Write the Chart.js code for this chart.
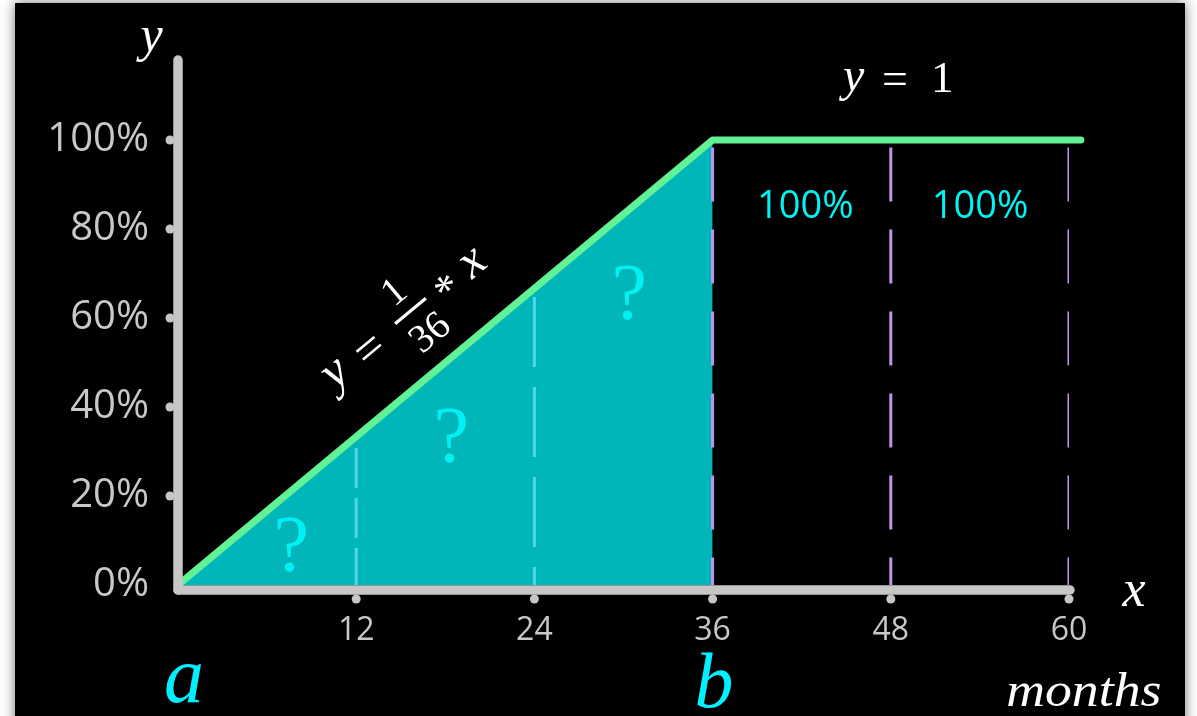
<!DOCTYPE html>
<html><head><meta charset="utf-8">
<script src="https://cdn.jsdelivr.net/npm/chart.js@4.4.1/dist/chart.umd.min.js"></script>
<style>html,body{margin:0;padding:0;background:#fff;overflow:hidden}canvas{display:block}</style>
</head><body>
<canvas id="c" width="1197" height="716"></canvas>
<script>
// ---- data ----
const monthTicks = [0, 12, 24, 36, 48, 60];
const percentTicks = [0, 20, 40, 60, 80, 100];
const curveMonths = [0, 36, 60.8];
const curveShare = [0, 100, 100];
const areaMonths = [0, 36];
const areaShare = [0, 100];
const cyanGuideMonths = [12, 24];
const cyanGuideTop = [30.8, 64.7];
const purpleGuideMonths = [36, 48, 60];
const purpleGuideTop = [98.3, 98.3, 98.3];
const knownShareLabels = ['100%', '100%'];
const unknownLabels = ['?', '?', '?'];

// ---- styles ----
const GRID_GRAY = '#c6c6c6';
const TICK_GRAY = '#c8c8c8';
const TEAL = '#00b6b9';
const GREEN = '#63f195';
const CYAN_TEXT = '#00f0f4';
const SERIF = '"Liberation Serif", "DejaVu Serif", serif';
const SANS = '"Open Sans", "Noto Sans", sans-serif';

const pts = (xs, ys) => xs.map((x, i) => ({x, y: ys[i]}));

const datasets = [];
datasets.push({
  data: pts(curveMonths, curveShare), borderColor: GREEN, borderWidth: 7,
  borderCapStyle: 'round', borderJoinStyle: 'round', pointRadius: 0, fill: false,
  clip: false, order: 0
});
cyanGuideMonths.forEach((m, i) => {
  datasets.push({
    data: [{x: m, y: cyanGuideTop[i]}, {x: m, y: 0}], borderColor: '#4fd6ee', borderWidth: 3,
    borderDash: i === 0 ? [40, 10] : [70, 20], pointRadius: 0, fill: false, order: 1
  });
});
purpleGuideMonths.forEach((m, i) => {
  datasets.push({
    data: [{x: m, y: purpleGuideTop[i]}, {x: m, y: 0}], borderColor: '#c292f0', borderWidth: 3,
    borderDash: [54, 28], pointRadius: 0, fill: false, order: 1
  });
});
datasets.push({
  data: pts(areaMonths, areaShare), borderWidth: 0, borderColor: 'rgba(0,0,0,0)',
  backgroundColor: TEAL, fill: 'origin', pointRadius: 0, order: 2
});

function drawCentered(ctx, text, cx, cy, font, color) {
  ctx.font = font;
  ctx.fillStyle = color;
  ctx.textAlign = 'left';
  ctx.textBaseline = 'alphabetic';
  const m = ctx.measureText(text);
  const x = cx - (m.actualBoundingBoxRight - m.actualBoundingBoxLeft) / 2;
  const y = cy + (m.actualBoundingBoxAscent - m.actualBoundingBoxDescent) / 2;
  ctx.fillText(text, x, y);
}

const decor = {
  id: 'decor',
  beforeDraw(chart) {
    const ctx = chart.ctx;
    ctx.save();
    ctx.fillStyle = '#ffffff';
    ctx.fillRect(0, 0, chart.width, chart.height);
    ctx.shadowColor = 'rgba(0,0,0,0.55)';
    ctx.shadowBlur = 12;
    ctx.fillStyle = '#000000';
    ctx.fillRect(15, 3, 1170, 730);
    ctx.restore();
  },
  afterDatasetsDraw(chart) {
    const ctx = chart.ctx;
    const xs = chart.scales.x, ys = chart.scales.y;
    const X = v => xs.getPixelForValue(v), Y = v => ys.getPixelForValue(v);
    ctx.save();
    // axes
    const ax = X(0), ay = Y(0) + 5;
    ctx.strokeStyle = GRID_GRAY; ctx.fillStyle = GRID_GRAY;
    ctx.lineWidth = 9.5; ctx.lineCap = 'round';
    ctx.beginPath(); ctx.moveTo(ax, ay); ctx.lineTo(ax, chart.chartArea.top - 80); ctx.stroke();
    ctx.beginPath(); ctx.moveTo(ax, ay); ctx.lineTo(X(60) + 1, ay); ctx.stroke();
    monthTicks.forEach(m => { if (m > 0) { ctx.beginPath(); ctx.arc(X(m), ay + 9, 4.5, 0, Math.PI * 2); ctx.fill(); } });
    percentTicks.forEach(p => { if (p > 0) { ctx.beginPath(); ctx.arc(ax - 8, Y(p), 4.5, 0, Math.PI * 2); ctx.fill(); } });

    // question marks
    const qPos = [[7.68, 9.1], [18.45, 33.6], [30.44, 65.8]];
    unknownLabels.forEach((t, i) => drawCentered(ctx, t, X(qPos[i][0]), Y(qPos[i][1]), '80px ' + SERIF, CYAN_TEXT));
    // known shares
    const kPos = [[42.3, 85.6], [54.07, 85.6]];
    knownShareLabels.forEach((t, i) => drawCentered(ctx, t, X(kPos[i][0]), Y(kPos[i][1]), '38px ' + SANS, '#00f2f2'));

    // y = 1
    drawCentered(ctx, 'y', 851.5, 85, 'italic 48px ' + SERIF, '#ffffff');
    drawCentered(ctx, '=', 895, 78.5, '46px ' + SERIF, '#ffffff');
    drawCentered(ctx, '1', 942.5, 77, '45px ' + SERIF, '#ffffff');

    // axis names
    drawCentered(ctx, 'y', 149.5, 44.5, 'italic 50px ' + SERIF, '#ffffff');
    drawCentered(ctx, 'x', 1133.5, 594, 'italic 52px ' + SERIF, '#ffffff');
    drawCentered(ctx, 'a', 183.5, 683.5, 'italic 80px ' + SERIF, '#00f0ff');
    drawCentered(ctx, 'b', 714, 680, 'italic 78px ' + SERIF, '#00f0ff');
    ctx.save();
    ctx.translate(1084, 688.5); ctx.scale(1.12, 1);
    drawCentered(ctx, 'months', 0, 0, 'italic 48px ' + SERIF, '#ffffff');
    ctx.restore();

    // rotated formula along the slope
    const ang = Math.atan2(Y(areaShare[1]) - Y(0), X(areaMonths[1]) - X(0));
    ctx.translate(X(0), Y(0));
    ctx.rotate(ang);
    drawCentered(ctx, 'y', 254, -55, 'italic 50px ' + SERIF, '#ffffff');
    drawCentered(ctx, '=', 298, -60, '50px ' + SERIF, '#ffffff');
    drawCentered(ctx, '1', 354, -88, '40px ' + SERIF, '#ffffff');
    ctx.fillStyle = '#ffffff'; ctx.fillRect(334, -63.5, 40, 3.2);
    drawCentered(ctx, '36', 355, -34, '40px ' + SERIF, '#ffffff');
    drawCentered(ctx, '*', 397, -61, '44px ' + SERIF, '#ffffff');
    drawCentered(ctx, 'x', 432, -58, 'italic 50px ' + SERIF, '#ffffff');
    ctx.restore();
  }
};

new Chart(document.getElementById('c'), {
  type: 'line',
  data: {datasets},
  options: {
    responsive: false, animation: false, devicePixelRatio: 1,
    layout: {padding: {left: 0, right: 128, top: 140, bottom: 0}},
    plugins: {legend: {display: false}, tooltip: {enabled: false}},
    scales: {
      x: {
        type: 'linear', min: 0, max: 60,
        afterBuildTicks: s => { s.ticks = monthTicks.map(v => ({value: v})); },
        afterFit: s => { s.height = 131; },
        grid: {display: false, drawTicks: false}, border: {display: false},
        ticks: {color: TICK_GRAY, font: {family: SANS, size: 32}, padding: 27, maxRotation: 0, autoSkip: false,
          callback: v => v === 0 ? '' : String(v)}
      },
      y: {
        type: 'linear', min: 0, max: 100,
        afterBuildTicks: s => { s.ticks = percentTicks.map(v => ({value: v})); },
        afterFit: s => { s.width = 178; },
        grid: {display: false, drawTicks: false}, border: {display: false},
        ticks: {color: TICK_GRAY, font: {family: SANS, size: 40}, padding: 29, callback: v => v + '%'}
      }
    }
  },
  plugins: [decor]
});
</script>
</body></html>
